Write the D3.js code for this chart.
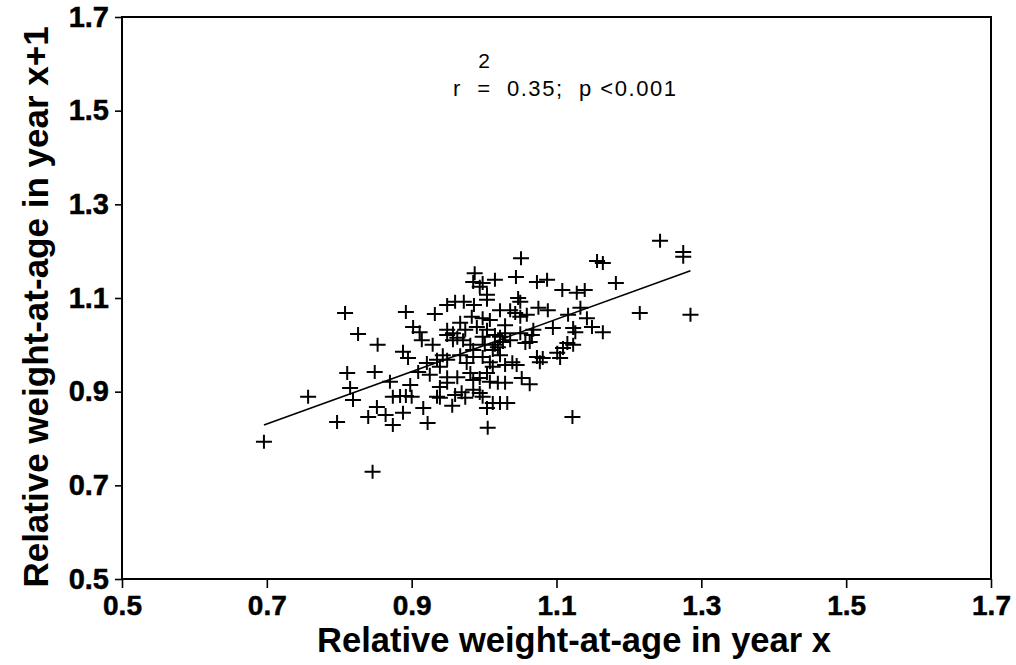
<!DOCTYPE html>
<html>
<head>
<meta charset="utf-8">
<script src="https://cdn.jsdelivr.net/npm/d3@7"></script>
<style>
  html, body { margin: 0; padding: 0; background: #fff; }
  svg { display: block; }
</style>
</head>
<body>
<svg id="chart" width="1016" height="665"></svg>
<script>
// ---- data ----
const xTicks = [0.5, 0.7, 0.9, 1.1, 1.3, 1.5, 1.7];
const yTicks = [0.5, 0.7, 0.9, 1.1, 1.3, 1.5, 1.7];

const weightYearX = [
  0.808, 0.892, 0.932, 0.826, 0.853, 0.811, 0.849, 0.815, 0.757, 0.819,
  0.870, 0.797, 0.840, 0.852, 0.864, 0.874, 0.888, 0.874, 0.884, 0.892,
  0.900, 0.916, 0.922, 0.939, 0.956, 1.005, 1.004, 0.696, 0.846, 0.949,
  0.960, 0.972, 0.986, 0.967, 0.902, 0.911, 0.914, 0.888, 0.895, 0.921,
  0.935, 0.939, 0.943, 0.949, 0.963, 0.939, 0.935, 0.985, 0.994, 0.990,
  1.004, 0.994, 1.004, 1.004, 0.949, 0.963, 0.985, 0.998, 1.012, 1.012,
  1.243, 1.275, 1.275, 1.156, 1.164, 1.051, 1.182, 0.987, 0.985, 0.998,
  1.015, 1.044, 1.073, 1.087, 1.108, 1.128, 1.139, 1.047, 1.050, 1.075,
  1.088, 1.036, 1.043, 1.050, 1.059, 0.983, 0.998, 1.008, 1.116, 1.133,
  1.142, 1.149, 1.215, 1.285, 1.164, 1.123, 1.126, 1.095, 1.068, 1.066,
  1.050, 1.022, 1.026, 1.019, 0.998, 0.949, 0.957, 0.971, 0.957, 1.057,
  1.063, 1.115, 1.123, 1.109, 1.101, 1.105, 1.081, 1.073, 1.077, 1.039,
  1.045, 1.008, 0.985, 0.976, 0.949, 1.052, 1.063, 1.019, 1.029, 1.004,
  1.008, 0.981, 0.949, 0.985, 0.994, 0.998, 1.012, 1.022, 1.032, 1.122,
  1.022, 1.029, 0.969, 0.929, 1.015, 1.029, 1.015, 1.036, 0.981, 0.974,
  1.022, 1.029, 1.001, 0.967, 0.960, 0.974, 0.925, 0.909, 0.898
];
const weightYearX1 = [
  1.068, 1.070, 1.066, 1.023, 1.000, 0.940, 0.942, 0.908, 0.889, 0.882,
  0.921, 0.835, 0.846, 0.867, 0.850, 0.829, 0.855, 0.889, 0.891, 0.891,
  0.889, 0.865, 0.833, 0.887, 0.870, 0.823, 0.865, 0.793, 0.729, 1.085,
  1.092, 1.092, 1.085, 1.047, 1.038, 1.027, 1.010, 0.985, 0.972, 0.961,
  0.968, 0.953, 0.978, 0.931, 0.931, 0.910, 0.889, 0.925, 0.929, 1.038,
  1.032, 1.124, 1.107, 1.096, 1.021, 1.015, 0.989, 0.974, 0.989, 0.953,
  1.222, 1.198, 1.188, 1.179, 1.175, 1.185, 1.132, 1.153, 1.134, 1.132,
  1.139, 1.145, 1.134, 1.139, 1.117, 1.111, 1.117, 1.100, 1.092, 1.079,
  1.074, 1.074, 1.068, 1.060, 1.064, 1.060, 1.057, 1.053, 1.064, 1.079,
  1.057, 1.038, 1.068, 1.064, 1.027, 1.036, 1.027, 1.036, 1.032, 1.021,
  1.025, 1.017, 1.006, 0.995, 1.017, 1.032, 1.025, 1.010, 1.010, 1.004,
  1.006, 1.004, 1.000, 0.993, 0.983, 0.972, 0.972, 0.974, 0.963, 0.963,
  0.957, 0.963, 0.974, 0.961, 0.968, 0.929, 0.916, 0.919, 0.919, 0.940,
  0.921, 0.940, 0.919, 0.904, 0.897, 0.889, 0.876, 0.876, 0.876, 0.846,
  1.074, 1.042, 0.899, 1.000, 1.021, 1.025, 1.000, 1.010, 1.000, 1.032,
  0.978, 0.957, 1.000, 0.978, 0.893, 0.887, 0.936, 0.942, 0.914
];

// fitted regression line end points
const fitX = [0.696, 1.285];
const fitY = [0.829, 1.158];

const xTitle = "Relative weight-at-age in year x";
const yTitle = "Relative weight-at-age in year x+1";
const statText = "r  =  0.35;  p <0.001";
const statSup = "2";

// ---- drawing ----
const svg = d3.select("#chart");
const FONT = "'Liberation Sans', Arial, Helvetica, sans-serif";

const x = d3.scaleLinear().domain([0.5, 1.7]).range([122, 991]);
const y = d3.scaleLinear().domain([0.5, 1.7]).range([579, 17]);

// frame
svg.append("rect")
  .attr("x", x(0.5)).attr("y", y(1.7))
  .attr("width", x(1.7) - x(0.5)).attr("height", y(0.5) - y(1.7))
  .attr("fill", "none").attr("stroke", "#000").attr("stroke-width", 2);

const fmt = d3.format(".1f");

const gx = svg.append("g").attr("transform", `translate(0,${y(0.5)})`)
  .call(d3.axisBottom(x).tickValues(xTicks).tickFormat(fmt).tickSize(9).tickSizeOuter(0).tickPadding(7));
gx.select(".domain").remove();
gx.selectAll(".tick line").attr("stroke", "#000").attr("stroke-width", 1.6);
gx.selectAll(".tick text")
  .attr("font-family", FONT).attr("font-weight", "bold").attr("font-size", 28).attr("fill", "#000")
  .attr("stroke", "#000").attr("stroke-width", 0.5);

const gy = svg.append("g").attr("transform", `translate(${x(0.5)},0)`)
  .call(d3.axisLeft(y).tickValues(yTicks).tickFormat(fmt).tickSize(7).tickSizeOuter(0).tickPadding(6));
gy.select(".domain").remove();
gy.selectAll(".tick line").attr("stroke", "#000").attr("stroke-width", 1.6);
gy.selectAll(".tick text")
  .attr("font-family", FONT).attr("font-weight", "bold").attr("font-size", 29).attr("fill", "#000")
  .attr("stroke", "#000").attr("stroke-width", 0.5);

// axis titles
svg.append("text")
  .attr("x", 574).attr("y", 652)
  .attr("text-anchor", "middle")
  .attr("font-family", FONT).attr("font-weight", "bold").attr("font-size", 34.5)
  .text(xTitle);

svg.append("text")
  .attr("transform", "translate(48,307) rotate(-90)")
  .attr("text-anchor", "middle")
  .attr("font-family", FONT).attr("font-weight", "bold").attr("font-size", 35)
  .text(yTitle);

// regression line
svg.append("line")
  .attr("x1", x(fitX[0])).attr("y1", y(fitY[0]))
  .attr("x2", x(fitX[1])).attr("y2", y(fitY[1]))
  .attr("stroke", "#000").attr("stroke-width", 1.6);

// points as "+"
const pts = weightYearX.map((v, i) => [v, weightYearX1[i]]);
const plus = d3.path();
pts.forEach(([a, b]) => {
  const cx = x(a), cy = y(b);
  plus.moveTo(cx - 8, cy); plus.lineTo(cx + 8, cy);
  plus.moveTo(cx, cy - 7); plus.lineTo(cx, cy + 7);
});
svg.append("path").attr("d", plus.toString())
  .attr("stroke", "#000").attr("stroke-width", 2).attr("fill", "none");

// annotation
svg.append("text")
  .attr("x", 484).attr("y", 68)
  .attr("text-anchor", "middle")
  .attr("font-family", FONT).attr("font-size", 21)
  .text(statSup);
svg.append("text")
  .attr("x", 453).attr("y", 96)
  .attr("font-family", FONT).attr("font-size", 22)
  .attr("textLength", 223).attr("lengthAdjust", "spacing")
  .style("white-space", "pre")
  .text(statText);
</script>
</body>
</html>
